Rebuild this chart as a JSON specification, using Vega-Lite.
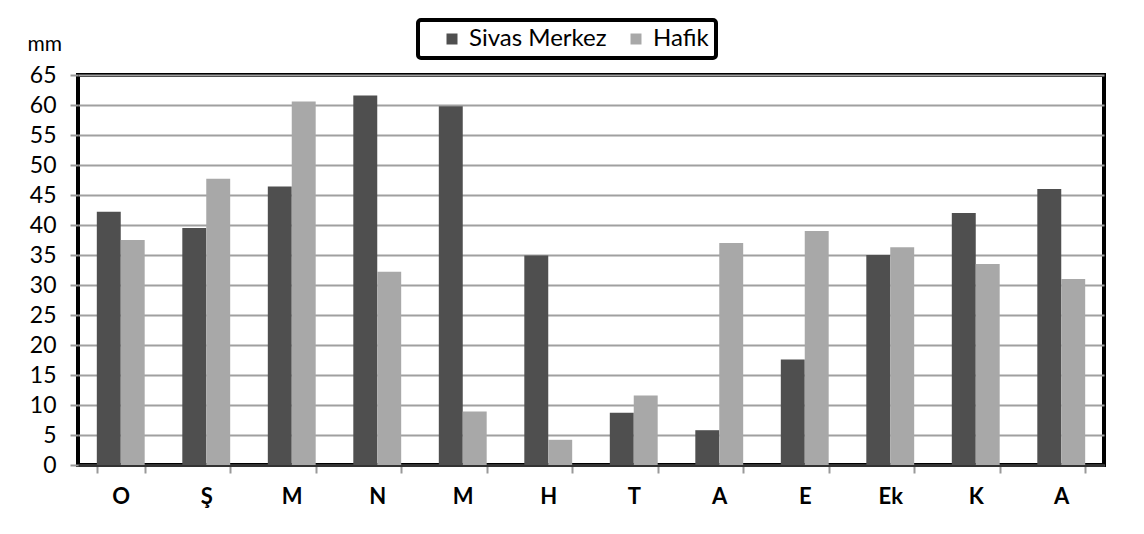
{
  "$schema": "https://vega.github.io/schema/vega-lite/v6.json",
  "autosize": {"type": "none"},
  "width": 1026,
  "height": 390,
  "padding": {"left": 78, "top": 75, "right": 40, "bottom": 69},
  "background": "white",
  "data": {
    "values": [
      {"ay": "O", "station": "Sivas Merkez", "mm": 42.2},
      {"ay": "O", "station": "Hafik", "mm": 37.5},
      {"ay": "Ş", "station": "Sivas Merkez", "mm": 39.5},
      {"ay": "Ş", "station": "Hafik", "mm": 47.7},
      {"ay": "M", "station": "Sivas Merkez", "mm": 46.4},
      {"ay": "M", "station": "Hafik", "mm": 60.6},
      {"ay": "N", "station": "Sivas Merkez", "mm": 61.6},
      {"ay": "N", "station": "Hafik", "mm": 32.2},
      {"ay": "M ", "station": "Sivas Merkez", "mm": 59.8},
      {"ay": "M ", "station": "Hafik", "mm": 8.9},
      {"ay": "H", "station": "Sivas Merkez", "mm": 34.9},
      {"ay": "H", "station": "Hafik", "mm": 4.2},
      {"ay": "T", "station": "Sivas Merkez", "mm": 8.7},
      {"ay": "T", "station": "Hafik", "mm": 11.6},
      {"ay": "A", "station": "Sivas Merkez", "mm": 5.8},
      {"ay": "A", "station": "Hafik", "mm": 37.0},
      {"ay": "E", "station": "Sivas Merkez", "mm": 17.6},
      {"ay": "E", "station": "Hafik", "mm": 39.0},
      {"ay": "Ek", "station": "Sivas Merkez", "mm": 35.0},
      {"ay": "Ek", "station": "Hafik", "mm": 36.3},
      {"ay": "K", "station": "Sivas Merkez", "mm": 42.0},
      {"ay": "K", "station": "Hafik", "mm": 33.5},
      {"ay": "A ", "station": "Sivas Merkez", "mm": 46.0},
      {"ay": "A ", "station": "Hafik", "mm": 31.0}
    ]
  },
  "mark": {"type": "bar"},
  "encoding": {
    "x": {
      "field": "ay",
      "type": "nominal",
      "sort": null,
      "scale": {"paddingInner": 0.44, "paddingOuter": 0.22},
      "axis": {
        "title": null,
        "labelExpr": "trim(datum.label)",
        "labelAngle": 0,
        "labelFont": "Lato",
        "labelFontWeight": "bold",
        "labelFontSize": 22,
        "labelColor": "black",
        "labelPadding": 13,
        "tickBand": "extent",
        "tickSize": 8,
        "tickColor": "#999999",
        "tickWidth": 2,
        "domainColor": "#333333",
        "domainWidth": 3,
        "grid": false
      }
    },
    "xOffset": {
      "field": "station",
      "type": "nominal",
      "sort": ["Sivas Merkez", "Hafik"],
      "scale": {"paddingInner": 0, "paddingOuter": 0}
    },
    "y": {
      "field": "mm",
      "type": "quantitative",
      "scale": {"domain": [0, 65], "nice": false},
      "axis": {
        "title": "mm",
        "titleAngle": 0,
        "titleAlign": "left",
        "titleBaseline": "middle",
        "titleX": -51,
        "titleY": -31,
        "titleFont": "Lato",
        "titleFontWeight": "normal",
        "titleFontSize": 21,
        "titleColor": "black",
        "values": [0, 5, 10, 15, 20, 25, 30, 35, 40, 45, 50, 55, 60, 65],
        "labelFont": "Lato",
        "labelFontSize": 23,
        "labelColor": "black",
        "labelPadding": 14,
        "tickSize": 8,
        "tickColor": "#999999",
        "tickWidth": 2,
        "domain": false,
        "grid": true,
        "gridColor": "#a0a0a0",
        "gridWidth": 2
      }
    },
    "fill": {
      "field": "station",
      "type": "nominal",
      "sort": ["Sivas Merkez", "Hafik"],
      "scale": {"domain": ["Sivas Merkez", "Hafik"], "range": ["#4f4f4f", "#a8a8a8"]},
      "legend": {
        "title": null,
        "orient": "none",
        "direction": "horizontal",
        "legendX": 340,
        "legendY": -55,
        "strokeColor": "black",
        "cornerRadius": 3,
        "padding": 7,
        "symbolType": "square",
        "symbolSize": 121,
        "symbolStrokeWidth": 0,
        "symbolOffset": 15,
        "labelFont": "Lato",
        "labelFontSize": 24,
        "labelColor": "black",
        "columnPadding": 2,
        "labelOffset": 5,
        "fillColor": "white",
        "encode": {"legend": {"update": {"strokeWidth": {"value": 4}}}}
      }
    }
  },
  "config": {
    "view": {"stroke": "black", "strokeWidth": 4}
  }
}
